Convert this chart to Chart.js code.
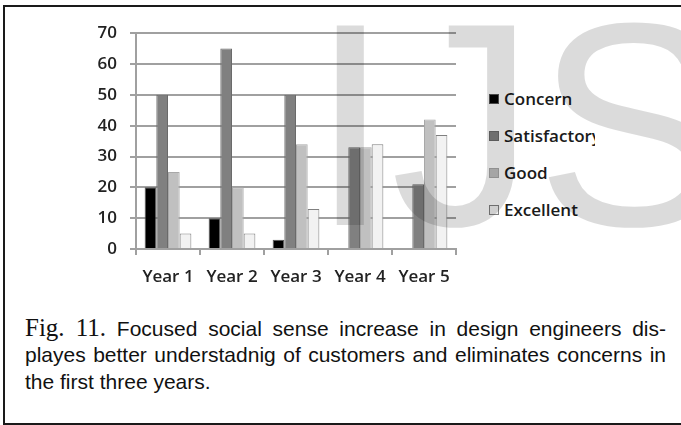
<!DOCTYPE html>
<html>
<head>
<meta charset="utf-8">
<script src="https://cdn.jsdelivr.net/npm/chart.js@4"></script>
<style>
  html, body { margin: 0; padding: 0; width: 681px; height: 425px; overflow: hidden; background: #fff; }
  #frame { position: absolute; left: 3px; top: 5px; width: 720px; height: 416px; border: 2px solid #1a1a1a; }
  #chartBox { position: absolute; left: 60px; top: 10px; width: 420px; height: 290px; }
  #legend { position: absolute; left: 489px; top: 80px; width: 106px; overflow: hidden; font-family: "Open Sans", sans-serif; font-size: 17px; font-weight: 600; color: #1a1a1a; white-space: nowrap; }
  #legend .item { height: 37px; display: flex; align-items: center; }
  #legend .swatch { width: 10px; height: 10px; box-sizing: border-box; margin-right: 5px; flex: none; }
  .cap { position: absolute; left: 25px; width: 641px; font-family: "Liberation Sans", Arial, sans-serif; font-size: 21px; line-height: 27px; color: #111; white-space: nowrap; }
  .cap.j { text-align: justify; text-align-last: justify; white-space: normal; }
  .cap .fig { font-family: "Liberation Serif", "Times New Roman", serif; font-size: 25px; line-height: 27px; }
  #mark { position: absolute; left: 310px; top: -21px; font-family: "Liberation Sans", Arial, sans-serif; font-size: 290px; line-height: 290px; color: rgba(0,0,0,0.14); white-space: nowrap; pointer-events: none; }
</style>
</head>
<body>
<div id="frame"></div>
<div id="chartBox"><canvas id="barChart" width="420" height="290"></canvas></div>
<div id="legend"></div>
<div class="cap j" style="top:314px;"><span class="fig">Fig. 11.</span> Focused social sense increase in design engineers dis-</div>
<div class="cap j" style="top:341px;">playes better understadnig of customers and eliminates concerns in</div>
<div class="cap" style="top:368px;">the first three years.</div>
<div id="mark">IJS</div>
<script>
// Data
const categories = ['Year 1', 'Year 2', 'Year 3', 'Year 4', 'Year 5'];
const seriesNames = ['Concern', 'Satisfactory', 'Good', 'Excellent'];
const concern = [20, 10, 3, 0, 0];
const satisfactory = [50, 65, 50, 33, 21];
const good = [25, 20, 34, 33, 42];
const excellent = [5, 5, 13, 34, 37];
const yTicks = [0, 10, 20, 30, 40, 50, 60, 70];

const fills = ['#000000', '#808080', '#c0c0c0', '#f2f2f2'];
const edges = ['#555555', '#6a6a6a', '#a8a8a8', '#808080'];

document.addEventListener('DOMContentLoaded', function () {
  const values = [concern, satisfactory, good, excellent];
  const axisFont = { family: 'Open Sans', size: 17, weight: '600' };

  const ctx = document.getElementById('barChart').getContext('2d');
  new Chart(ctx, {
    type: 'bar',
    data: {
      labels: categories,
      datasets: seriesNames.map(function (name, i) {
        return {
          label: name,
          data: values[i],
          backgroundColor: fills[i],
          borderColor: edges[i],
          borderWidth: 1,
          categoryPercentage: 0.73,
          barPercentage: 1.0
        };
      })
    },
    options: {
      responsive: false,
      animation: false,
      devicePixelRatio: 1,
      layout: { padding: { top: 22, right: 24, left: 0, bottom: 0 } },
      plugins: { legend: { display: false }, tooltip: { enabled: false } },
      scales: {
        x: {
          grid: { drawOnChartArea: false, drawTicks: true, tickLength: 6, color: '#a0a0a0', lineWidth: 2, offset: true },
          border: { color: '#a0a0a0', width: 2 },
          ticks: { color: '#222', font: axisFont, padding: 12, maxRotation: 0 },
          afterFit: function (scale) { scale.height = 51; }
        },
        y: {
          min: yTicks[0],
          max: yTicks[yTicks.length - 1],
          afterBuildTicks: function (scale) {
            scale.ticks = yTicks.map(function (v) { return { value: v }; });
          },
          grid: { color: '#a0a0a0', lineWidth: 2, tickLength: 6 },
          border: { color: '#a0a0a0', width: 2 },
          ticks: { color: '#222', font: axisFont, padding: 13 },
          afterFit: function (scale) { scale.width = 76; }
        }
      }
    }
  });

  // Legend built from the same series
  const legend = document.getElementById('legend');
  seriesNames.forEach(function (name, i) {
    const item = document.createElement('div');
    item.className = 'item';
    const sw = document.createElement('span');
    sw.className = 'swatch';
    sw.style.background = fills[i];
    sw.style.border = '1px solid ' + edges[i];
    const label = document.createElement('span');
    label.textContent = name;
    item.appendChild(sw);
    item.appendChild(label);
    legend.appendChild(item);
  });
});
</script>
</body>
</html>
